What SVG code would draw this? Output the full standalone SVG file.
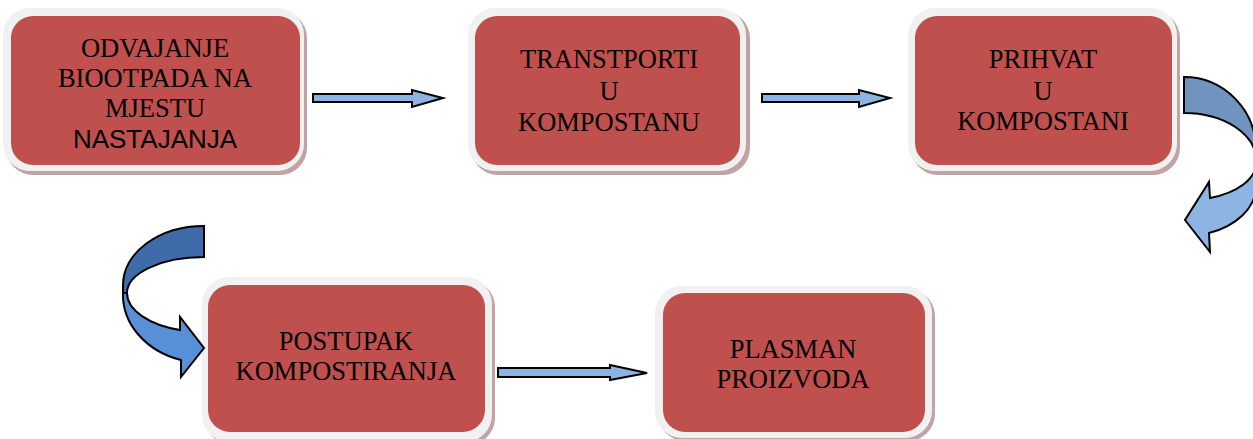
<svg xmlns="http://www.w3.org/2000/svg" width="1253" height="439" viewBox="0 0 1253 439">
  <style>
    .shadow { fill: #C2A3A3; }
    .frame { fill: #F1F1F1; }
    .box { fill: #C0504D; }
    .t { font-family: "Liberation Serif", "Times New Roman", serif; font-size: 26.5px; fill: #000; text-anchor: middle; }
    .ts { font-family: "Liberation Sans", Arial, sans-serif; font-size: 26px; fill: #000; text-anchor: middle; }
    .arr { fill: #8DB3E2; stroke: #000; stroke-width: 2; stroke-linejoin: miter; }
    .cdark1 { fill: #3F6CA8; stroke: #000; stroke-width: 2; }
    .clight1 { fill: #5890D7; stroke: #000; stroke-width: 2; }
    .cdark2 { fill: #7194BF; stroke: #000; stroke-width: 2; }
    .clight2 { fill: #8DB4E3; stroke: #000; stroke-width: 2; }
  </style>
  <rect width="1253" height="439" fill="#FFFFFF"/>

  <g id="node-odvajanje">
    <rect class="shadow" x="6" y="11" width="301" height="164" rx="27"/>
    <rect class="frame" x="3" y="8" width="301" height="163" rx="27"/>
    <rect class="box" x="11" y="16" width="289" height="149" rx="22"/>
    <text class="t" x="155" y="57">ODVAJANJE</text>
    <text class="t" x="155" y="87">BIOOTPADA NA</text>
    <text class="t" x="155" y="117">MJESTU</text>
    <text class="ts" x="155" y="148">NASTAJANJA</text>
  </g>

  <g id="node-transport">
    <rect class="shadow" x="471" y="11" width="279" height="164" rx="27"/>
    <rect class="frame" x="468" y="8" width="278" height="163" rx="27"/>
    <rect class="box" x="475" y="16" width="265" height="149" rx="22"/>
    <text class="t" x="609" y="68">TRANSTPORTI</text>
    <text class="t" x="609" y="100">U</text>
    <text class="t" x="609" y="131">KOMPOSTANU</text>
  </g>

  <g id="node-prihvat">
    <rect class="shadow" x="911" y="11" width="269" height="164" rx="27"/>
    <rect class="frame" x="908" y="8" width="269" height="163" rx="27"/>
    <rect class="box" x="915" y="16" width="257" height="149" rx="22"/>
    <text class="t" x="1043" y="68">PRIHVAT</text>
    <text class="t" x="1043" y="100">U</text>
    <text class="t" x="1043" y="130">KOMPOSTANI</text>
  </g>

  <g id="node-postupak">
    <rect class="shadow" x="205" y="280" width="290" height="165" rx="27"/>
    <rect class="frame" x="202" y="277" width="290" height="165" rx="27"/>
    <rect class="box" x="208" y="285" width="277" height="147" rx="22"/>
    <text class="t" x="346" y="350">POSTUPAK</text>
    <text class="t" x="346" y="380">KOMPOSTIRANJA</text>
  </g>

  <g id="node-plasman">
    <rect class="shadow" x="658" y="289" width="277" height="152" rx="27"/>
    <rect class="frame" x="655" y="286" width="277" height="152" rx="27"/>
    <rect class="box" x="663" y="293" width="262" height="139" rx="22"/>
    <text class="t" x="793" y="358">PLASMAN</text>
    <text class="t" x="793" y="388">PROIZVODA</text>
  </g>

  <g id="connectors">
    <polygon class="arr" points="313,94 412,94 412,90 443,98 412,107 412,102 313,102"/>
    <polygon class="arr" points="762,94 859,94 859,90 890,98 859,107 859,102 762,102"/>
    <polygon class="arr" points="498,368 610,368 610,365 647,373 610,380 610,377 498,377"/>

    <path class="clight2" d="M 1256,163 A 72 37 0 0 1 1210,198 L 1209,182 L 1185,220 L 1210,252 L 1209,233 A 72 50 0 0 0 1256,188 Z"/>
    <path class="cdark2" d="M 1184,77 A 72 73 0 0 1 1256,150 L 1256,160 A 72 47 0 0 0 1184,113 Z"/>

    <path class="clight1" d="M 123,293 A 81 68 0 0 0 181,360 L 181,377 L 204,348 L 180,317 L 180,330 A 77 39 0 0 1 127,293 Z"/>
    <path class="cdark1" d="M 204,226 A 81 59 0 0 0 123,285 L 123,293 L 127,293 A 77 36 0 0 1 204,257 Z"/>
  </g>
</svg>
